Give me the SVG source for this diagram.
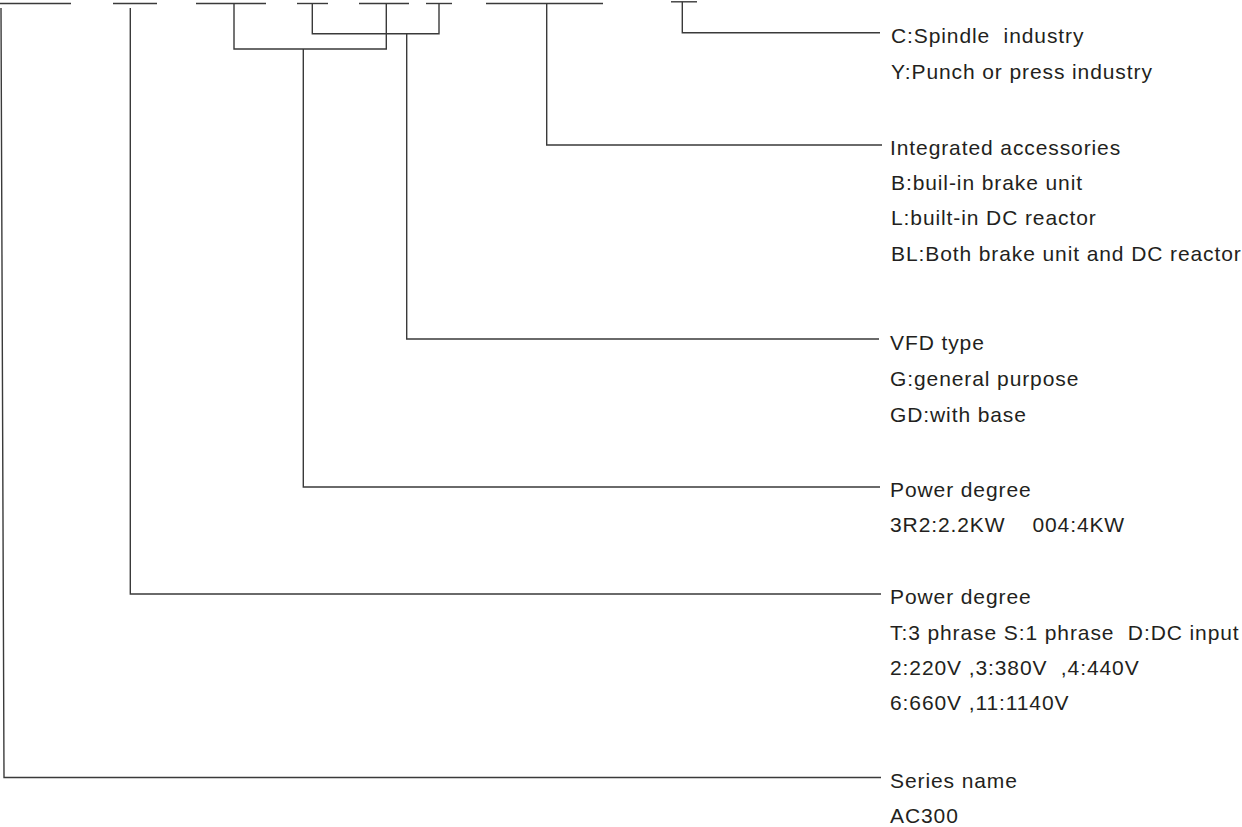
<svg xmlns="http://www.w3.org/2000/svg" width="1242" height="827" viewBox="0 0 1242 827">
<style>
.ln{fill:none;stroke:#3a3a3a;stroke-width:1.4;stroke-linejoin:miter}
.t{font-family:"Liberation Sans",Arial,Helvetica,sans-serif;font-size:21px;fill:#231f20;letter-spacing:0.9px;white-space:pre}
</style>
<rect width="1242" height="827" fill="#ffffff"/>
<g id="code-segments" class="ln">
<line x1="0" y1="3.5" x2="71" y2="3.5"/>
<line x1="113" y1="3.5" x2="157" y2="3.5"/>
<line x1="196" y1="3.5" x2="266" y2="3.5"/>
<line x1="297" y1="3.5" x2="328" y2="3.5"/>
<line x1="359" y1="3.5" x2="409" y2="3.5"/>
<line x1="426" y1="3.5" x2="452" y2="3.5"/>
<line x1="486" y1="3.5" x2="603" y2="3.5"/>
<line x1="671" y1="1.8" x2="697" y2="1.8"/>
</g>
<g id="connectors" class="ln">
<polyline points="682.3,1.8 682.3,32.7 880,32.7"/>
<polyline points="546.7,3.5 546.7,145 882,145"/>
<polyline points="312.3,3.5 312.3,33.7 439,33.7 439,3.5"/>
<polyline points="406.7,33.7 406.7,339 879,339"/>
<polyline points="234,3.5 234,49 386.3,49 386.3,3.5"/>
<polyline points="303.3,49 303.3,487 880,487"/>
<polyline points="130.3,8 130.3,594 881,594"/>
<polyline points="1,8 4,777.5 881,777.5"/>
</g>
<g id="node-industry">
<text class="t" x="891" y="43.3">C:Spindle  industry</text>
<text class="t" x="891" y="79.3">Y:Punch or press industry</text>
</g>
<g id="node-accessories">
<text class="t" x="890" y="155">Integrated accessories</text>
<text class="t" x="891" y="190">B:buil-in brake unit</text>
<text class="t" x="891" y="225">L:built-in DC reactor</text>
<text class="t" x="891" y="260.5">BL:Both brake unit and DC reactor</text>
</g>
<g id="node-vfd-type">
<text class="t" x="890" y="350">VFD type</text>
<text class="t" x="890" y="385.7">G:general purpose</text>
<text class="t" x="890" y="421.7">GD:with base</text>
</g>
<g id="node-power">
<text class="t" x="890" y="497.3">Power degree</text>
<text class="t" x="890" y="532.3">3R2:2.2KW    004:4KW</text>
</g>
<g id="node-voltage">
<text class="t" x="890" y="604">Power degree</text>
<text class="t" x="890" y="640">T:3 phrase S:1 phrase  D:DC input</text>
<text class="t" x="890" y="675">2:220V ,3:380V  ,4:440V</text>
<text class="t" x="890" y="710">6:660V ,11:1140V</text>
</g>
<g id="node-series">
<text class="t" x="890" y="788.3">Series name</text>
<text class="t" x="890" y="823.3">AC300</text>
</g>
</svg>
